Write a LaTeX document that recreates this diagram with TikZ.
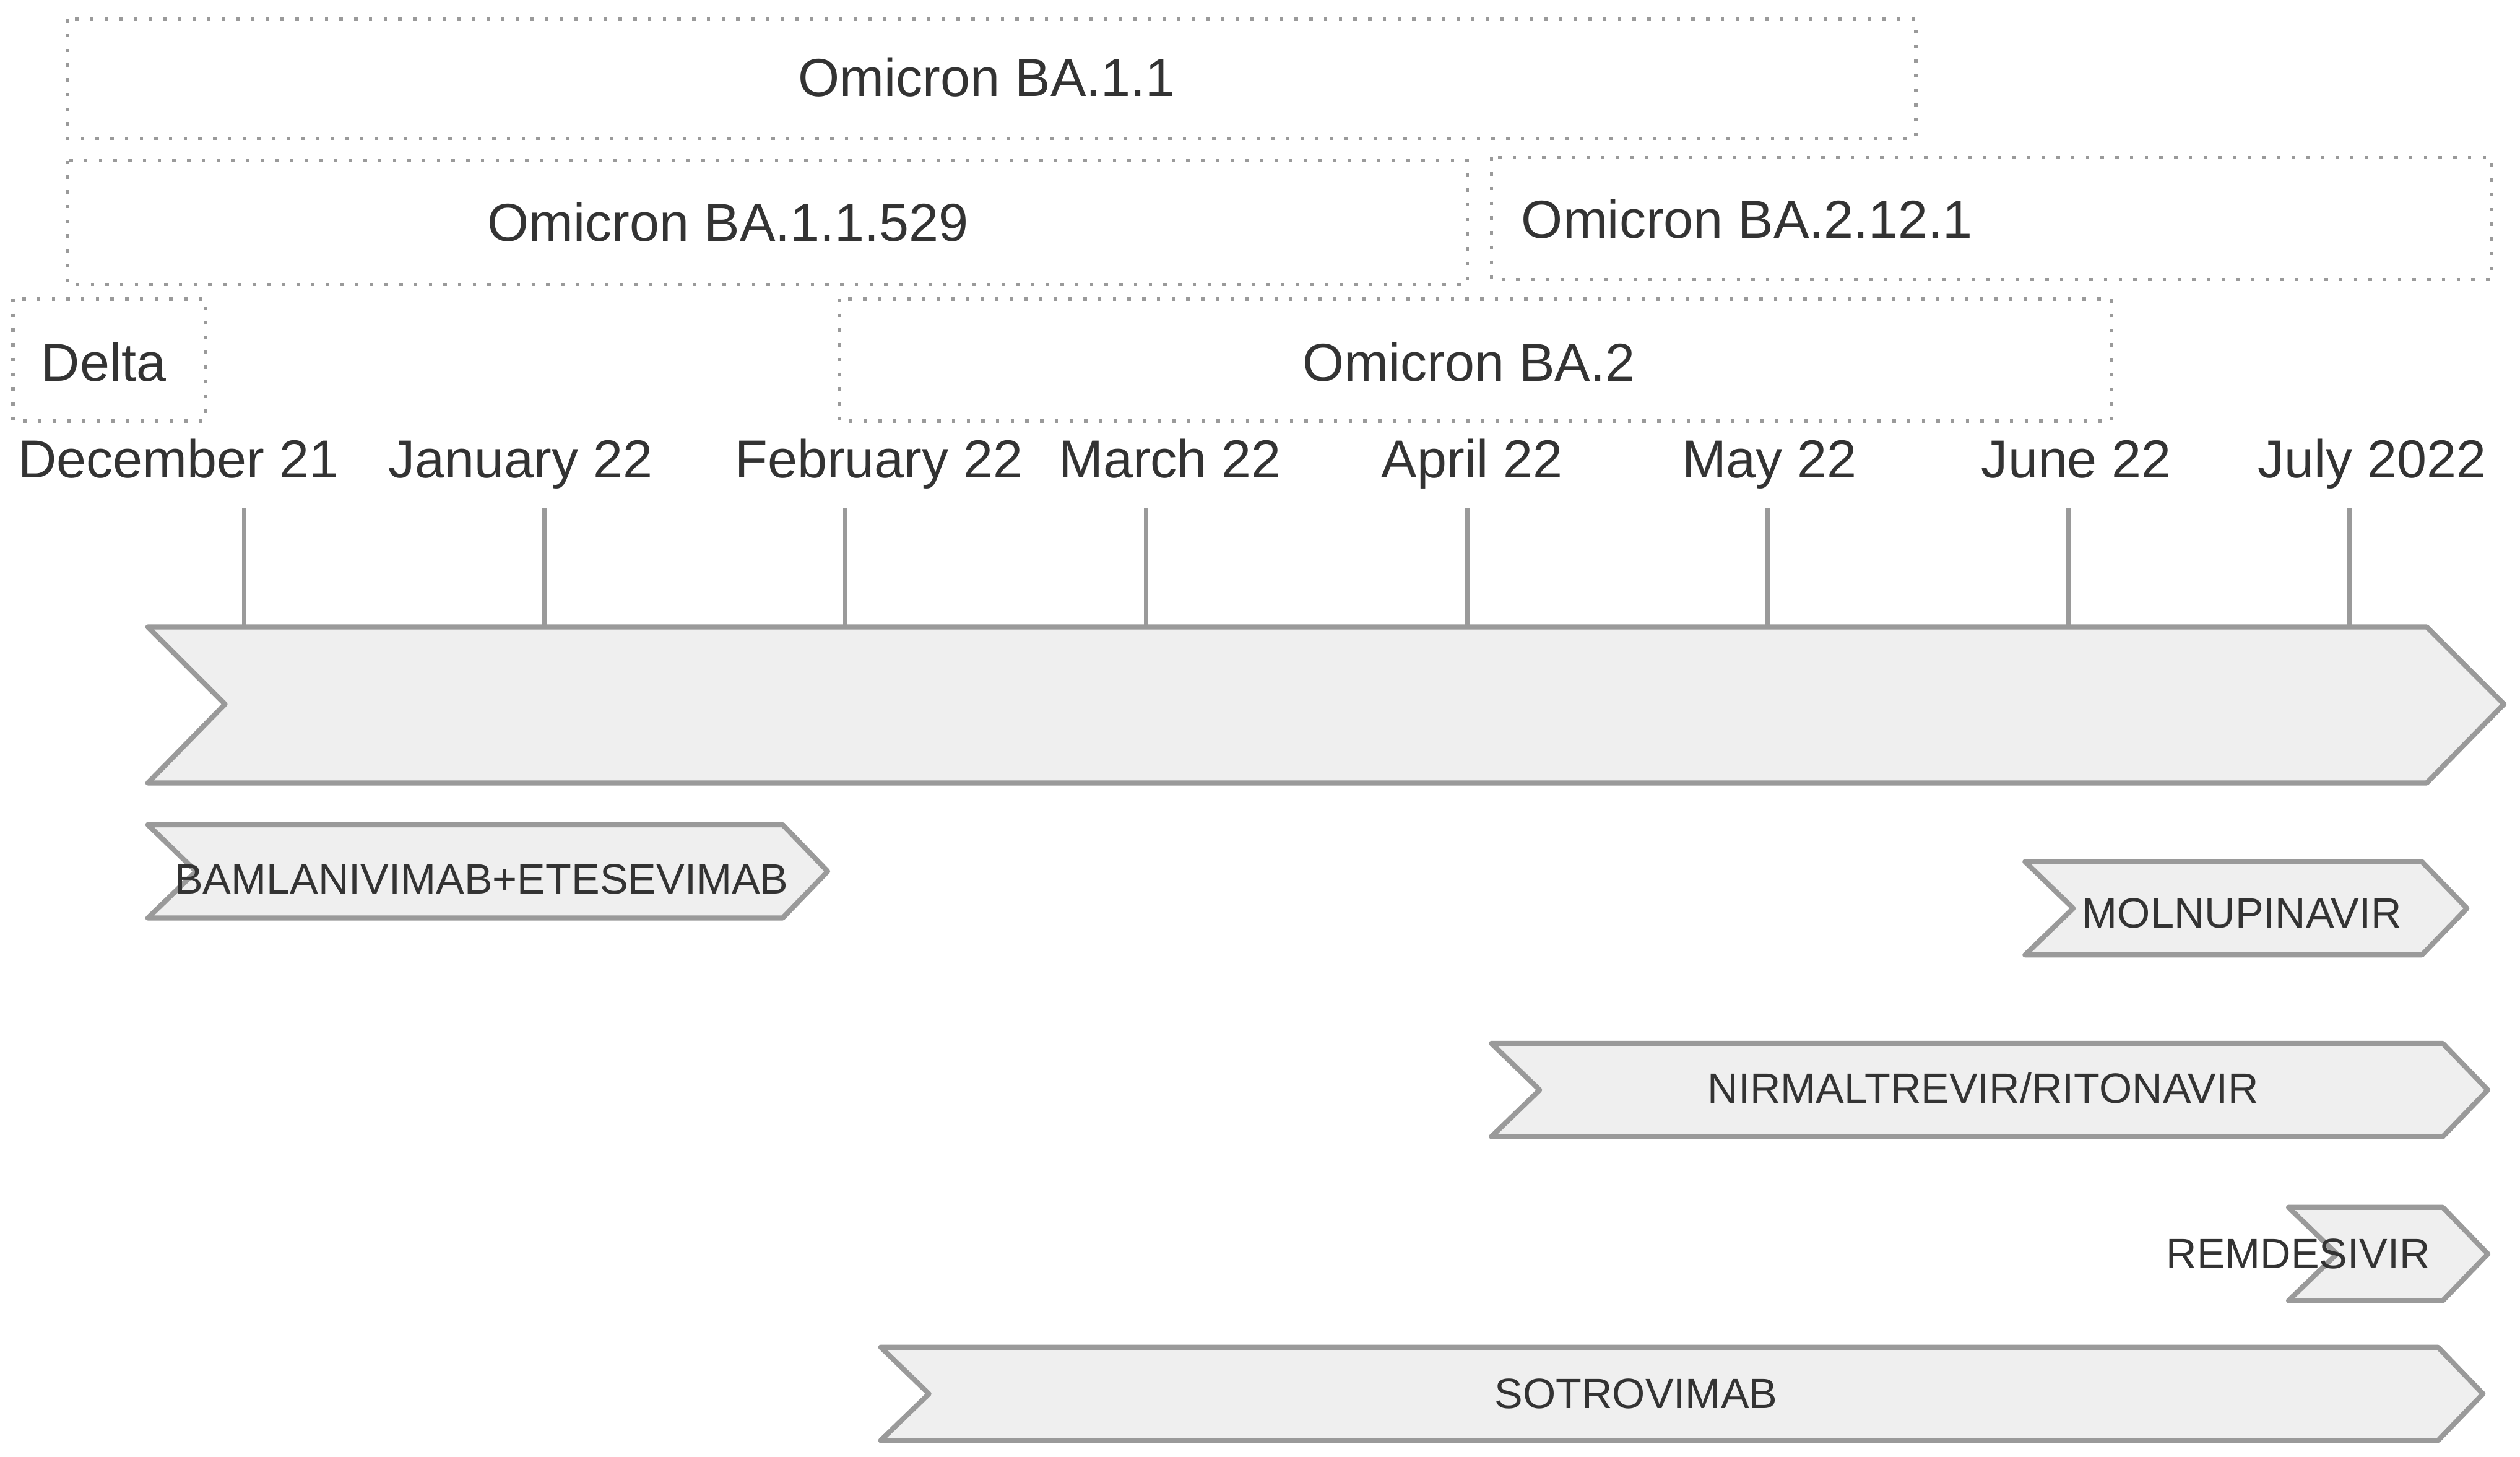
\documentclass[tikz,border=0pt]{standalone}
\usepackage{fontspec}
\setmainfont{Liberation Sans}
\definecolor{bordergray}{HTML}{9A9A9A}
\definecolor{fillgray}{HTML}{EFEFEF}
\definecolor{textgray}{HTML}{333333}
\begin{document}
\begin{tikzpicture}[x=0.01cm, y=-0.01cm,
  variant/.style={draw=bordergray, dotted, line width=0.6pt},
  varlabel/.style={text=textgray, font=\fontsize{9.45}{11}\selectfont, inner sep=0pt, anchor=base},
  tickline/.style={draw=bordergray, line width=0.8pt},
  chevron/.style={draw=bordergray, fill=fillgray, line width=0.9pt, line join=round},
  druglabel/.style={text=textgray, font=\fontsize{7.5}{9}\selectfont, inner sep=0pt, anchor=base}]

\useasboundingbox (0,0) rectangle (1568,906);

% variant boxes
\draw[variant] (42,12) rectangle (1192,86);
\draw[variant] (42,100) rectangle (913,177);
\draw[variant] (928,98) rectangle (1550,174);
\draw[variant] (8,186) rectangle (128,262);
\draw[variant] (522,186) rectangle (1314,262);

\node[varlabel] (ba11) at (614,60) {Omicron BA.1.1};
\node[varlabel] (ba529) at (453,150) {Omicron BA.1.1.529};
\node[varlabel, anchor=base west] (ba2121) at (946,148) {Omicron BA.2.12.1};
\node[varlabel, anchor=base west] (delta) at (25,237) {Delta};
\node[varlabel] (ba2) at (914,237) {Omicron BA.2};

% months and ticks
\foreach \name/\lx/\tx in {December 21/111/152, January 22/324/339, February 22/547/526,
  March 22/728/713, April 22/916/913, May 22/1101/1100, June 22/1292/1287, July 2022/1476/1462} {
  \node[varlabel] (m\tx) at (\lx,297) {\name};
  \coordinate (t\tx) at (\tx,316);
  \draw[tickline] (t\tx) -- (\tx,390);
}

% main time arrow
\draw[chevron] (92,390) -- (1510,390) -- (1558,438) -- (1510,487) -- (92,487) -- (140,438) -- cycle;

% treatment arrows
\foreach \l/\r/\t/\b in {92/487/513/571, 1260/1507/536/594, 928/1520/649/707,
  1424/1520/751/809, 548/1517/838/896}
  \draw[chevron] (\l,\t) -- (\r,\t) -- ({\r+28},{(\t+\b)/2}) -- (\r,\b) -- (\l,\b) -- ({\l+30},{(\t+\b)/2}) -- cycle;

\node[druglabel, anchor=base west] (bam) at (108,556) {BAMLANIVIMAB+ETESEVIMAB};
\node[druglabel] (mol) at (1395,577) {MOLNUPINAVIR};
\node[druglabel] (nir) at (1234,686) {NIRMALTREVIR/RITONAVIR};
\node[druglabel] (rem) at (1430,789) {REMDESIVIR};
\node[druglabel] (sot) at (1018,876) {SOTROVIMAB};

\end{tikzpicture}
\end{document}
